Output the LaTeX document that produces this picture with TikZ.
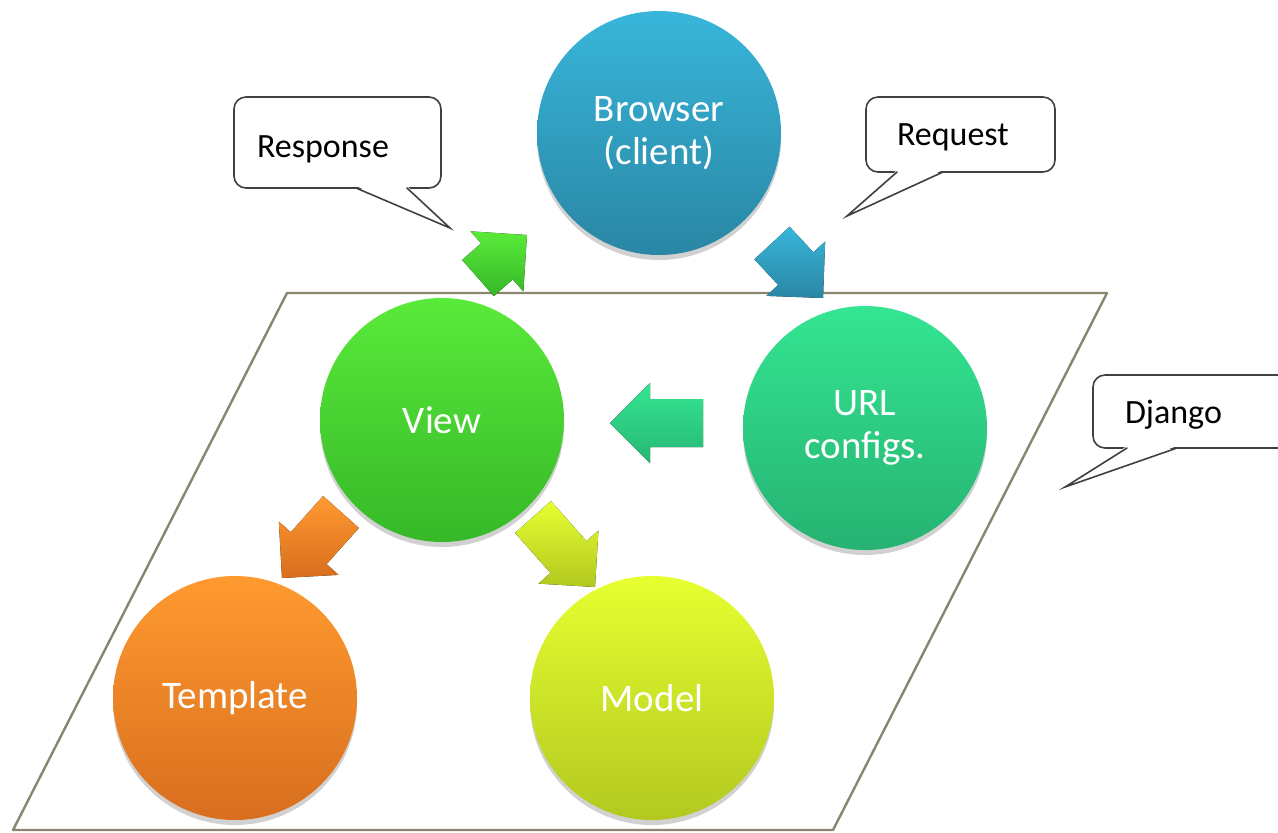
\documentclass[tikz,border=0pt]{standalone}
\usepackage{fontspec}
\setmainfont{Carlito}
\usetikzlibrary{calc,shadows}

\definecolor{planeline}{HTML}{8A8470}
\definecolor{browsertop}{HTML}{38B6DA}
\definecolor{browserbot}{HTML}{2A86A4}
\definecolor{viewtop}{HTML}{5AEA3A}
\definecolor{viewbot}{HTML}{36B828}
\definecolor{urltop}{HTML}{34E592}
\definecolor{urlbot}{HTML}{26B272}
\definecolor{templtop}{HTML}{FF9A30}
\definecolor{templbot}{HTML}{D86E1E}
\definecolor{modeltop}{HTML}{E6FF30}
\definecolor{modelbot}{HTML}{B2C820}

\tikzset{
  bubble/.style={circle,minimum size=122pt,inner sep=0pt,text=white,align=center,
    font=\fontsize{19.5}{21.5}\selectfont,
    drop shadow={shadow xshift=0pt,shadow yshift=-2.5pt,opacity=0.18,fill=black}},
  balloon/.style={draw=black!75,fill=white,rounded corners=6pt,line width=0.8pt,
    outer sep=0pt,inner ysep=0pt,text depth=0pt,align=left,font=\fontsize{17}{20}\selectfont},
  plane/.style={draw=planeline,line width=1.2pt,line join=round}
}

% block arrow from tail to tip
\newcommand{\blockarrow}[4]{%
  \coordinate (hb) at ($(#2)!20pt!(#1)$);
  \fill[top color=#3,bottom color=#4]
    ($(#1)!12pt!90:(#2)$) -- ($(hb)!12pt!90:(#2)$) -- ($(hb)!20pt!90:(#2)$) -- (#2)
    -- ($(hb)!20pt!-90:(#2)$) -- ($(hb)!12pt!-90:(#2)$) -- ($(#1)!12pt!-90:(#2)$) -- cycle;
}

% pointer of a speech balloon
\newcommand{\pointer}[4]{%
  \fill[white] ($(#1.south west)+(#2,-2)$) -- (#4) -- ($(#1.south west)+(#3,-2)$) -- cycle;
  \draw[black!75,line width=0.8pt,line join=miter]
    ($(#1.south west)+(#2,0)$) -- (#4) -- ($(#1.south west)+(#3,0)$);
}

\begin{document}
\begin{tikzpicture}[x=0.5pt,y=-0.5pt,line cap=round]
\useasboundingbox (0,0) rectangle (1278,832);

\draw[plane] (287,293) -- (1107,293) -- (833,830) -- (13,830) -- cycle;

% arrows
\coordinate (resptail) at (478,278);
\coordinate (resptip) at (527,235);
\coordinate (reqtail) at (772,243);
\coordinate (reqtip) at (823,298);
\coordinate (urltail) at (703,423);
\coordinate (urltip) at (610,423);
\coordinate (templtail) at (341,512);
\coordinate (templtip) at (282,578);
\coordinate (modeltail) at (533,517);
\coordinate (modeltip) at (595,587);
\blockarrow{resptail}{resptip}{viewtop}{viewbot}
\blockarrow{reqtail}{reqtip}{browsertop}{browserbot}
\blockarrow{urltail}{urltip}{urltop}{urlbot!90!urltop}
\blockarrow{templtail}{templtip}{templtop}{templbot}
\blockarrow{modeltail}{modeltip}{modeltop}{modelbot}

% circles
\node[bubble,top color=browsertop,bottom color=browserbot] (browser) at (659,133) {Browser\\(client)};
\node[bubble,top color=viewtop,bottom color=viewbot] (view) at (442,420) {View};
\node[bubble,top color=urltop,bottom color=urlbot] (url) at (865,428) {URL\\configs.};
\node[bubble,top color=templtop,bottom color=templbot] (template) at (235,698) {Template};
\node[bubble,top color=modeltop,bottom color=modelbot] (model) at (652,698) {Model};

% balloons
\node[balloon,minimum height=45.5pt,inner xsep=11.5pt,text width=80.5pt,text height=15pt] (response) at (337.5,142.5) {Response};
\node[balloon,minimum height=37.5pt,inner xsep=15.5pt,text width=63.5pt] (request) at (960.5,134.5) {Request};
\node[balloon,minimum height=36.5pt,inner xsep=16pt,text width=66.5pt] (django) at (1191.5,411.5) {Django};
\coordinate (resppoint) at (450,228);
\coordinate (reqpoint) at (847,216);
\coordinate (djpoint) at (1065,487);
\pointer{response}{122}{173}{resppoint}
\pointer{request}{31}{77}{reqpoint}
\pointer{django}{34}{84}{djpoint}
\end{tikzpicture}
\end{document}
